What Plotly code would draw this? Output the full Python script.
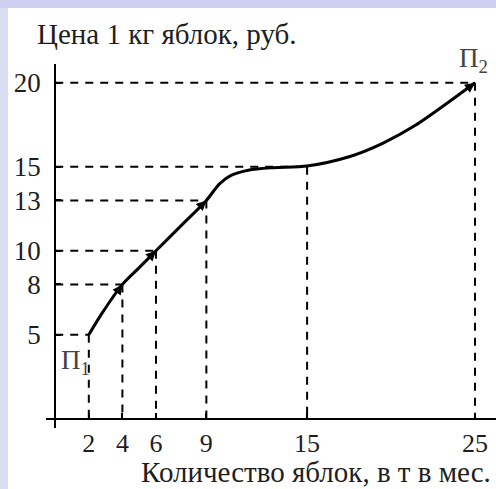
import plotly.graph_objects as go

# Data
x_ticks = [2, 4, 6, 9, 15, 25]
y_ticks = [5, 8, 10, 13, 15, 20]
point_x = [2, 4, 6, 9, 15, 25]
point_y = [5, 8, 10, 13, 15, 20]
curve_x = [2, 2.8, 4, 5, 6, 7.5, 9, 9.8, 10.5, 11.5, 13, 15, 17.5, 19.5, 21.5, 23.5, 25]
curve_y = [5, 6.3, 8, 9, 10, 11.5, 13, 14.0, 14.5, 14.8, 14.95, 15.05, 15.6, 16.4, 17.5, 18.9, 20]
y_title = "Цена 1 кг яблок, руб."
x_title = "Количество яблок, в т в мес."

W, H = 496, 489
ML, MR, MT, MB = 46, 0, 64, 61
XR = [-0.55, 26.25]
YR = [-0.55, 21.12]
FONT = "Liberation Serif"
TXT = "#1e1e1e"

fig = go.Figure()

# dashed guide lines
for px, py in zip(point_x, point_y):
    fig.add_trace(go.Scatter(x=[0, px], y=[py, py], mode="lines",
                             line=dict(color="black", width=2, dash="8px,7px"),
                             hoverinfo="skip", showlegend=False))
    fig.add_trace(go.Scatter(x=[px, px], y=[py, 0], mode="lines",
                             line=dict(color="black", width=2, dash="8px,7px"),
                             hoverinfo="skip", showlegend=False))

# main curve
fig.add_trace(go.Scatter(x=curve_x, y=curve_y, mode="lines",
                         line=dict(color="black", width=3, shape="spline", smoothing=0.8),
                         hoverinfo="skip", showlegend=False))

# arrowheads along the curve
for i in [2, 4, 6, len(curve_x) - 1]:
    x1, y1 = curve_x[i], curve_y[i]
    x0, y0 = curve_x[i - 1], curve_y[i - 1]
    fig.add_annotation(x=x1, y=y1, ax=x1 - (x1 - x0) * 0.3, ay=y1 - (y1 - y0) * 0.3,
                       xref="x", yref="y", axref="x", ayref="y", text="",
                       showarrow=True, arrowhead=2, arrowsize=1.0, arrowwidth=2,
                       arrowcolor="black")

xpos = 0.55 / (XR[1] - XR[0])
ypos = 0.55 / (YR[1] - YR[0])

fig.update_layout(
    width=W, height=H,
    margin=dict(l=ML, r=MR, t=MT, b=MB, pad=0),
    paper_bgcolor="white", plot_bgcolor="white",
    font=dict(family=FONT, size=28, color=TXT),
    xaxis=dict(range=XR, domain=[0, 1], anchor="free", position=ypos,
               showgrid=False, zeroline=False, showline=True, linecolor="black", linewidth=2,
               tickvals=x_ticks, ticktext=[str(v) for v in x_ticks],
               ticks="inside", ticklen=5, tickwidth=2, tickcolor="black",
               ticklabelstandoff=1, tickfont=dict(family=FONT, size=26, color=TXT)),
    yaxis=dict(range=YR, domain=[0, 1], anchor="free", position=xpos,
               showgrid=False, zeroline=False, showline=True, linecolor="black", linewidth=2,
               tickvals=y_ticks, ticktext=[str(v) for v in y_ticks],
               ticks="inside", ticklen=5, tickwidth=2, tickcolor="black",
               ticklabelstandoff=8, tickfont=dict(family=FONT, size=27, color=TXT)),
)

pw = W - ML - MR
ph = H - MT - MB

def px2x(p):
    return (p - ML) / pw

def py2y(p):
    return 1 - (p - MT) / ph

# lavender frame bands
fig.add_shape(type="rect", xref="paper", yref="paper", x0=px2x(0), x1=px2x(W), y0=py2y(8), y1=py2y(0),
              fillcolor="#CDD0F0", line_width=0, layer="below")
fig.add_shape(type="rect", xref="paper", yref="paper", x0=px2x(0), x1=px2x(8), y0=py2y(H), y1=py2y(8),
              fillcolor="#DADCF2", line_width=0, layer="below")

fig.add_annotation(text=y_title, xref="paper", yref="paper", x=px2x(35), y=py2y(34),
                   xanchor="left", yanchor="middle", showarrow=False,
                   font=dict(family=FONT, size=29, color=TXT))
fig.add_annotation(text=x_title, xref="paper", yref="paper", x=px2x(493), y=py2y(472),
                   xanchor="right", yanchor="middle", showarrow=False,
                   font=dict(family=FONT, size=29, color=TXT))
fig.add_annotation(text="П<sub>1</sub>", xref="paper", yref="paper", x=px2x(75), y=py2y(362),
                   xanchor="center", yanchor="middle", showarrow=False,
                   font=dict(family=FONT, size=27, color="#444"))
fig.add_annotation(text="П<sub>2</sub>", xref="paper", yref="paper", x=px2x(473), y=py2y(60),
                   xanchor="center", yanchor="middle", showarrow=False,
                   font=dict(family=FONT, size=27, color="#444"))

fig.write_html("out.html", config={"displayModeBar": False},
               post_script="document.body.style.margin='0';")
